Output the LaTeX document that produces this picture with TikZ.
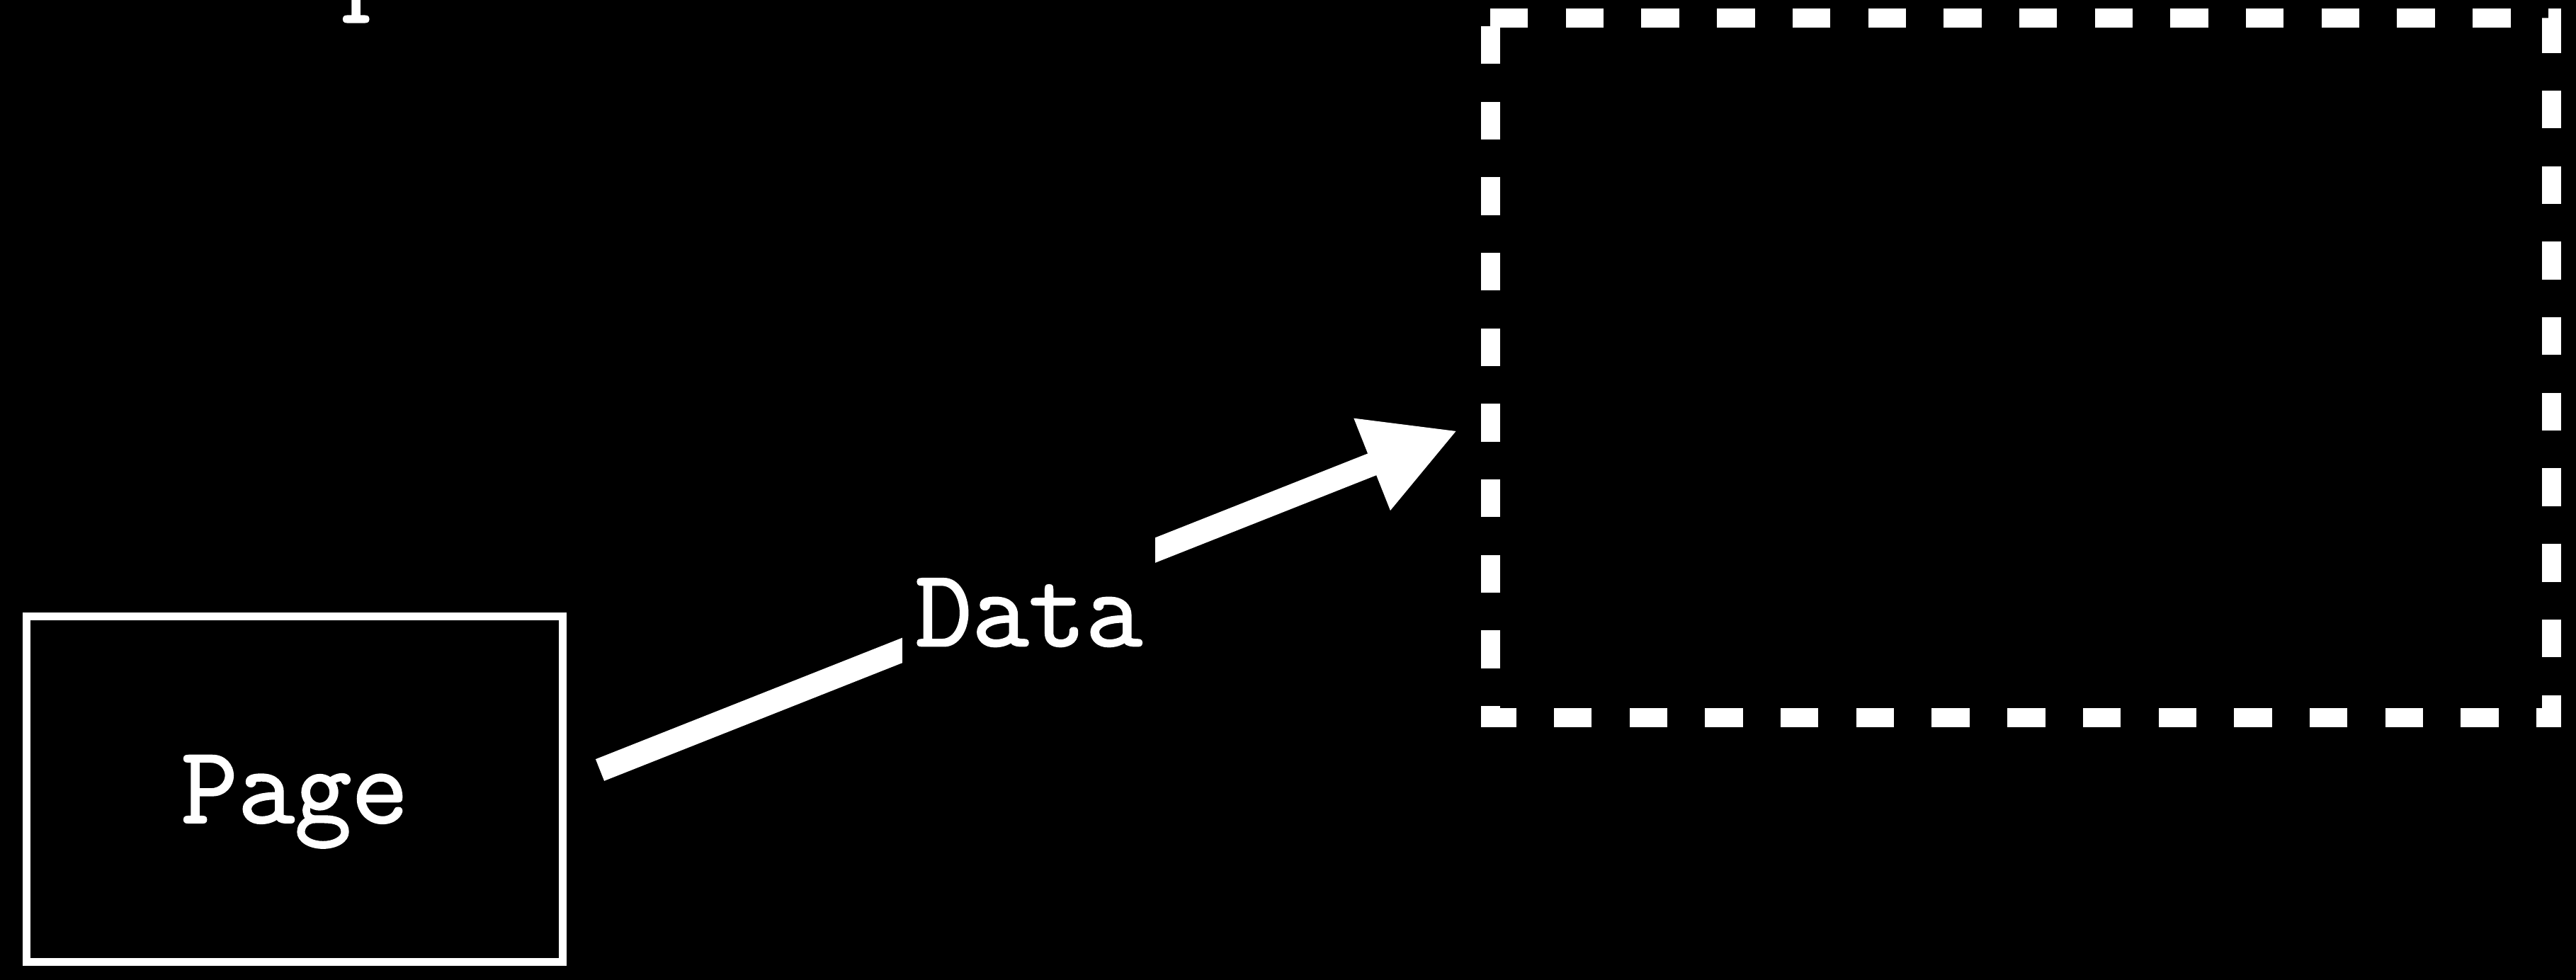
\documentclass[tikz,border=0pt]{standalone}
\usepackage{fontspec}
\setmonofont{Latin Modern Mono}[FakeBold=1.5]
\usetikzlibrary{arrows.meta}

\tikzset{
  mono/.style={font=\fontsize{44.3}{53}\selectfont\ttfamily, text=white},
  pagebox/.style={mono, draw=white, line width=0.11cm, minimum width=7.57cm, minimum height=4.88cm, text depth=0pt},
  storebox/.style={minimum width=14.98cm, minimum height=9.885cm, inner sep=0pt, outer sep=0pt},
  dashline/.style={draw=white, line width=0.27cm, dash pattern=on 0.534cm off 0.533cm},
  flow/.style={draw=white, line width=0.33cm, -{Triangle[length=1.3cm,width=1.3cm]}},
  tag/.style={mono, fill=black, text depth=0pt, inner xsep=0.18cm, minimum height=2.2cm}
}

\begin{document}
\begin{tikzpicture}
\useasboundingbox (0,0) rectangle (36.37,13.84);
\fill[black] (0,0) rectangle (36.37,13.84);

% text running off the top edge
\node[mono, anchor=base west, inner sep=0pt] (cut) at (4.82,13.87) {p};

\node[pagebox] (page) at (4.16,2.695) {Page};
\node[storebox] (store) at (28.53,8.6425) {};
\draw[dashline] (store.north west) -- (store.north east) -- (store.south east) -- (store.south west) -- cycle;

\draw[flow] ([shift={(0.47,0.27)}]page.east) -- node[tag, yshift=-0.17cm] {Data} ([shift={(-0.46,-0.8825)}]store.west);
\end{tikzpicture}
\end{document}
